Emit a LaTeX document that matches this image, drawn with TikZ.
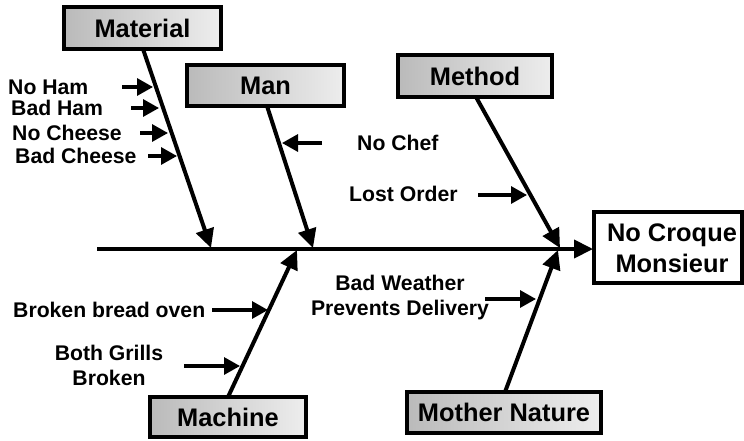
\documentclass[tikz,border=0pt]{standalone}
\usepackage{fontspec}
\setmainfont{Liberation Sans}
\usetikzlibrary{arrows.meta}
\tikzset{
  catbox/.style={draw=black, line width=3.5pt, left color=black!27, right color=black!7, inner sep=0pt, font=\fontsize{25.4}{28}\selectfont\bfseries},
  resbox/.style={draw=black, line width=3.5pt, fill=white, inner sep=0pt},
  bone/.style={line width=4pt, -{Triangle[length=19pt,width=18pt]}},
  twig/.style={line width=3.2pt, -{Triangle[length=16pt,width=17pt]}},
  lbl/.style={font=\fontsize{21.2}{25}\selectfont\bfseries, inner sep=0pt},
  big/.style={font=\fontsize{25.4}{31}\selectfont\bfseries, inner sep=0pt, align=center},
}
\begin{document}
\begin{tikzpicture}[x=1pt,y=-1pt]
\useasboundingbox (0,0) rectangle (744,440);
% category boxes
\node[catbox, minimum width=157pt, minimum height=42pt] (mat) at (142.5,28) {Material};
\node[catbox, minimum width=157pt, minimum height=41pt] (man) at (265.5,85.5) {Man};
\node[catbox, minimum width=154pt, minimum height=42pt] (met) at (475,76) {Method};
\node[catbox, minimum width=156pt, minimum height=40pt] (mac) at (228,417) {Machine};
\node[catbox, minimum width=194pt, minimum height=41pt] (mot) at (504,412.5) {Mother Nature};
% result box
\draw[resbox] (594,212) rectangle (742,283);
\node[big] (res) at (672,248) {No Croque\\Monsieur};
% spine
\coordinate (tail) at (97,249);
\coordinate (head) at (593,249);
\draw[bone] (tail) -- (head);
% bone end points
\coordinate (matS) at (143,49);
\coordinate (matE) at (211,248);
\coordinate (manS) at (267,106);
\coordinate (manE) at (313,248);
\coordinate (metS) at (476,97);
\coordinate (metE) at (560,248);
\coordinate (macS) at (228,397);
\coordinate (macE) at (297,250);
\coordinate (motS) at (505,392);
\coordinate (motE) at (558,250);
\draw[bone] (matS) -- (matE);
\draw[bone] (manS) -- (manE);
\draw[bone] (metS) -- (metE);
\draw[bone] (macS) -- (macE);
\draw[bone] (motS) -- (motE);
% sub-cause labels
\node[lbl, anchor=west] (l1) at (8,87) {No Ham};
\node[lbl, anchor=west] (l2) at (11,108) {Bad Ham};
\node[lbl, anchor=west] (l3) at (12,133) {No Cheese};
\node[lbl, anchor=west] (l4) at (15,156) {Bad Cheese};
\node[lbl, anchor=west] (l5) at (357,143) {No Chef};
\node[lbl, anchor=west] (l6) at (349,194) {Lost Order};
\node[lbl, anchor=west] (l7) at (13,310) {Broken bread oven};
\node[lbl, align=center] (l8) at (109,365) {Both Grills\\Broken};
\node[lbl, align=center] (l9) at (400,297.5) {Bad Weather\\Prevents Delivery};
% sub-cause arrows
\coordinate (a1s) at (122,87);  \coordinate (a1e) at (153,87);
\coordinate (a2s) at (131,108); \coordinate (a2e) at (159,108);
\coordinate (a3s) at (140,133); \coordinate (a3e) at (168,133);
\coordinate (a4s) at (148,156); \coordinate (a4e) at (177,156);
\coordinate (a5s) at (322,143); \coordinate (a5e) at (282,143);
\coordinate (a6s) at (478,195); \coordinate (a6e) at (527,195);
\coordinate (a7s) at (212,310); \coordinate (a7e) at (268,310);
\coordinate (a8s) at (184,366); \coordinate (a8e) at (240,366);
\coordinate (a9s) at (485,299); \coordinate (a9e) at (536,299);
\foreach \i in {1,...,9} {\draw[twig] (a\i s) -- (a\i e);}
\end{tikzpicture}
\end{document}
